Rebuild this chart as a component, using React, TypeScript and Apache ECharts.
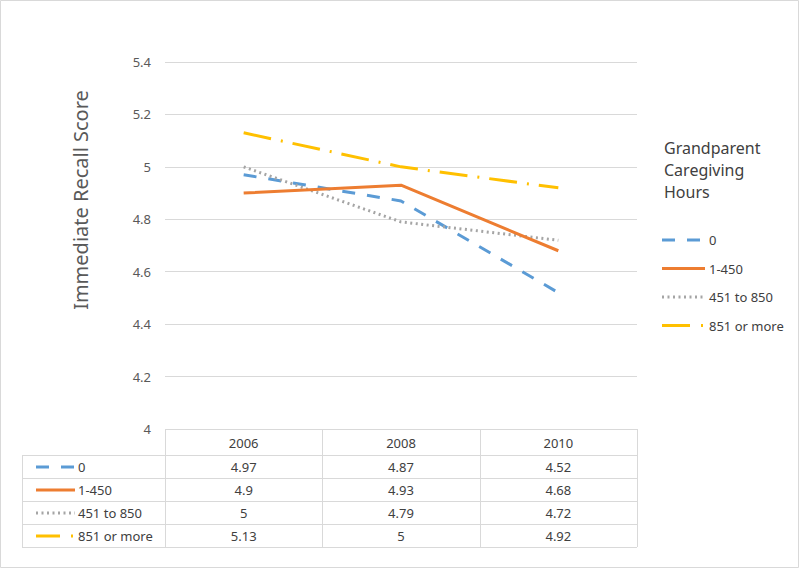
import React, { useEffect, useRef } from "react";
import * as echarts from "echarts";

const years = ["2006", "2008", "2010"];
const seriesNames = ["0", "1-450", "451 to 850", "851 or more"];
const s0 = [4.97, 4.87, 4.52];
const s1 = [4.9, 4.93, 4.68];
const s2 = [5, 4.79, 4.72];
const s3 = [5.13, 5, 4.92];
const colors = ["#5B9BD5", "#ED7D31", "#A5A5A5", "#FFC000"];
const dashes: any[] = [[13, 12], "solid", [2, 3.5], [28, 10, 2, 10]];
const widths = [3, 3, 3, 3];

const FONT = "'Noto Sans', 'Open Sans', sans-serif";

export default function App() {
  const ref = useRef<HTMLDivElement>(null);
  useEffect(() => {
    if (!ref.current) return;
    const chart = echarts.init(ref.current, null, { renderer: "svg" });
    const data = [s0, s1, s2, s3];

    const gL = 165, gR = 637, gTop = 62, gBot = 429;
    const colW = (gR - gL) / years.length;
    const tableLeft = 22;
    const rowH = [gBot, 455, 478, 501, 524, 547];
    const lineColor = "#D9D9D9";
    const graphics: any[] = [];
    graphics.push({ type: "rect", shape: { x: 0.5, y: 0.5, width: 798, height: 567 }, style: { fill: "none", stroke: "#D9D9D9", lineWidth: 1 } });
    graphics.push({ type: "line", shape: { x1: gL, y1: gBot + 0.5, x2: gR, y2: gBot + 0.5 }, style: { stroke: lineColor, lineWidth: 1 } });
    for (let i = 1; i < rowH.length; i++) {
      graphics.push({ type: "line", shape: { x1: tableLeft, y1: rowH[i] + 0.5, x2: gR, y2: rowH[i] + 0.5 }, style: { stroke: lineColor, lineWidth: 1 } });
    }
    graphics.push({ type: "line", shape: { x1: tableLeft + 0.5, y1: rowH[1], x2: tableLeft + 0.5, y2: rowH[5] }, style: { stroke: lineColor, lineWidth: 1 } });
    for (let c = 0; c <= years.length; c++) {
      const x = Math.round(gL + c * colW) + 0.5;
      graphics.push({ type: "line", shape: { x1: x, y1: gBot, x2: x, y2: rowH[5] }, style: { stroke: lineColor, lineWidth: 1 } });
    }
    years.forEach((y, c) => {
      graphics.push({ type: "text", x: gL + (c + 0.5) * colW, y: (rowH[0] + rowH[1]) / 2 + 1, style: { text: y, fill: "#404040", font: `13px ${FONT}`, align: "center", verticalAlign: "middle" } });
    });
    seriesNames.forEach((name, r) => {
      const cy = (rowH[r + 1] + rowH[r + 2]) / 2 + 0.5;
      const dash = dashes[r];
      graphics.push({ type: "line", shape: { x1: 36, y1: cy, x2: r === 3 ? 73 : 75, y2: cy }, style: { stroke: colors[r], lineWidth: 3, lineDash: dash === "solid" ? null : (r === 3 ? [24, 11, 2, 10] : dash) } });
      graphics.push({ type: "text", x: 78, y: cy, style: { text: name, fill: "#404040", font: `13px ${FONT}`, align: "left", verticalAlign: "middle" } });
      data[r].forEach((v, c) => {
        graphics.push({ type: "text", x: gL + (c + 0.5) * colW, y: cy, style: { text: String(v), fill: "#404040", font: `13px ${FONT}`, align: "center", verticalAlign: "middle" } });
      });
    });
    ["Grandparent", "Caregiving", "Hours"].forEach((t, i) => {
      graphics.push({ type: "text", x: 664, y: 148 + i * 22, style: { text: t, fill: "#404040", font: `16px ${FONT}`, verticalAlign: "middle" } });
    });
    seriesNames.forEach((name, r) => {
      const cy = 240 + r * 28.5;
      const dash = dashes[r];
      graphics.push({ type: "line", shape: { x1: 662, y1: cy, x2: 705, y2: cy }, style: { stroke: colors[r], lineWidth: 3, lineDash: dash === "solid" ? null : (r === 3 ? [28, 11, 2, 10] : dash) } });
      graphics.push({ type: "text", x: 709, y: cy, style: { text: name, fill: "#404040", font: `13px ${FONT}`, verticalAlign: "middle" } });
    });
    graphics.push({ type: "text", x: 80, y: 200, rotation: Math.PI / 2, style: { text: "Immediate Recall Score", fill: "#595959", font: `20px ${FONT}`, align: "center", verticalAlign: "middle" } });

    chart.setOption({
      animation: false,
      backgroundColor: "#FFFFFF",
      grid: { left: gL, right: 800 - gR, top: gTop, bottom: 569 - gBot, containLabel: false },
      xAxis: {
        type: "category",
        data: years,
        boundaryGap: true,
        axisLine: { show: false },
        axisTick: { show: false },
        axisLabel: { show: false },
        splitLine: { show: false },
      },
      yAxis: {
        type: "value",
        min: 4,
        max: 5.4,
        interval: 0.2,
        axisLine: { show: false },
        axisTick: { show: false },
        axisLabel: { color: "#595959", fontSize: 13, fontFamily: FONT, margin: 14, formatter: (v: number) => String(Math.round(v * 10) / 10) },
        splitLine: { lineStyle: { color: "#D9D9D9", width: 1 } },
      },
      series: seriesNames.map((n, i) => ({
        name: n,
        type: "line",
        data: data[i],
        symbol: "none",
        lineStyle: { color: colors[i], width: widths[i], type: dashes[i], cap: "butt" },
        z: i === 1 ? 3 : 2,
      })),
      graphic: graphics,
    });
    return () => chart.dispose();
  }, []);
  return <div ref={ref} style={{ width: 800, height: 569, position: "absolute", left: 0, top: 0 }} />;
}
